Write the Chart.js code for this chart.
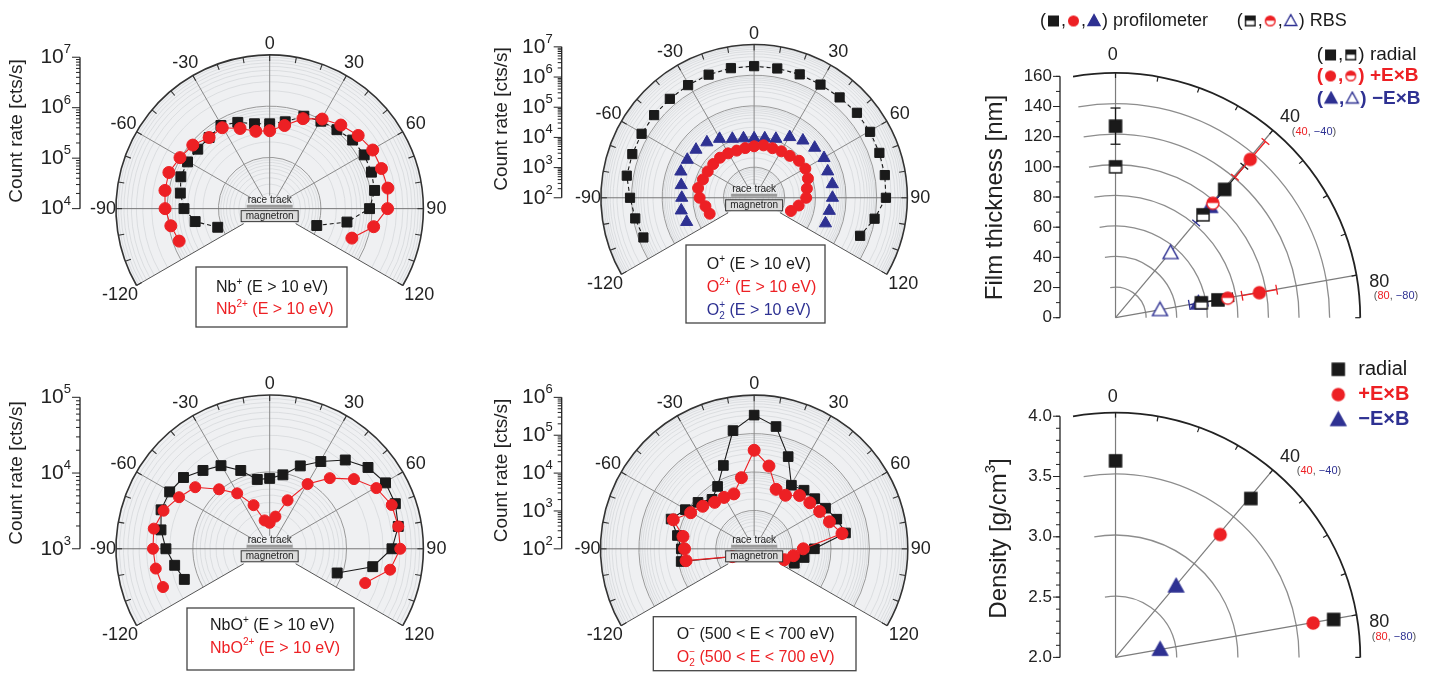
<!DOCTYPE html>
<html>
<head>
<meta charset="utf-8">
<title>Angular ion distributions and film properties</title>
<script src="https://cdn.jsdelivr.net/npm/chart.js@4.4.1/dist/chart.umd.min.js"></script>
<style>
  html, body { margin: 0; padding: 0; background: #fff; }
  #page { position: relative; width: 1432px; height: 673px; overflow: hidden; }
  #page canvas { position: absolute; }
</style>
</head>
<body>
<div id="page">
  <canvas id="nb"></canvas>
  <canvas id="ox"></canvas>
  <canvas id="nbo"></canvas>
  <canvas id="oneg"></canvas>
  <canvas id="thick"></canvas>
  <canvas id="dens"></canvas>
</div>
<script>
// angles (deg from target normal) and count rates (cts/s)
const ANGLES = [-110, -100, -90, -80, -70, -60, -50, -40, -30, -20, -10, 0, 10, 20, 30, 40, 50, 60, 70, 80, 90, 100, 110];
const ANGLE_TICKS = [-120, -90, -60, -30, 0, 30, 60, 90, 120];

const NB_PLUS = [1.2e5, 3.0e5, 4.7e5, 5.9e5, 7.0e5, 7.1e5, 6.8e5, 6.9e5, 8.0e5, 6.6e5, 5.1e5, 4.8e5, 5.6e5, 8.9e5, 1.0e6, 1.1e6, 1.3e6, 1.35e6, 1.3e6, 1.2e6, 8.9e5, 3.4e5, 9.5e4];
const NB_2PLUS = [7.6e5, 9.1e5, 1.1e6, 1.19e6, 1.24e6, 1.05e6, 9.1e5, 6.9e5, 7.1e5, 4.9e5, 3.6e5, 3.5e5, 4.7e5, 7.9e5, 1.12e6, 1.45e6, 1.8e6, 2.1e6, 2.1e6, 2.2e6, 2.0e6, 1.15e6, 5.1e5];
const NB_EXP = [4, 5, 6, 7];

const O_PLUS = [7.0e5, 8.7e5, 1.12e6, 1.66e6, 1.7e6, 1.74e6, 1.82e6, 1.9e6, 2.04e6, 2.19e6, 2.29e6, 2.29e6, 2.24e6, 2.24e6, 2.14e6, 2.19e6, 2.4e6, 2.34e6, 2.24e6, 2.14e6, 2.0e6, 9.8e5, 4.8e5];
const O_2PLUS = [3.5e3, 4.1e3, 6.0e3, 7.2e3, 6.0e3, 5.6e3, 5.5e3, 5.4e3, 5.0e3, 4.6e3, 4.7e3, 5.1e3, 5.8e3, 5.6e3, 6.0e3, 6.5e3, 8.1e3, 8.5e3, 7.4e3, 5.6e3, 5.0e3, 3.0e3, 1.9e3];
const O2_PLUS = [2.2e4, 2.6e4, 2.3e4, 2.6e4, 3.5e4, 3.3e4, 3.0e4, 2.5e4, 1.8e4, 1.2e4, 1.0e4, 9.3e3, 1.0e4, 1.2e4, 2.1e4, 3.0e4, 3.8e4, 4.3e4, 3.6e4, 3.9e4, 3.6e4, 3.1e4, 3.0e4];
const O_EXP = [2, 3, 4, 5, 6, 7];

const NBO_PLUS = [1.52e4, 1.8e4, 2.24e4, 2.73e4, 3.19e4, 3.18e4, 2.91e4, 2.24e4, 1.85e4, 1.26e4, 8.5e3, 8.5e3, 9.8e3, 1.46e4, 2.14e4, 3.39e4, 4.68e4, 5.5e4, 5.5e4, 5.0e4, 3.9e4, 2.3e4, 8.6e3];
const NBO_2PLUS = [3.0e4, 3.2e4, 3.3e4, 3.4e4, 2.95e4, 2.3e4, 1.84e4, 1.06e4, 7.0e3, 4.1e3, 2.4e3, 2.2e3, 2.7e3, 4.8e3, 9.7e3, 1.65e4, 2.7e4, 4.0e4, 4.9e4, 5.0e4, 5.0e4, 3.9e4, 2.1e4];
const NBO_EXP = [3, 4, 5];

const O_MINUS = [410, 8.5e3, 7.9e3, 1.07e4, 2.0e4, 1.17e4, 8.1e3, 5.1e3, 8.0e3, 2.2e4, 1.48e5, 3.4e5, 1.9e5, 3.9e4, 8.7e3, 1.05e4, 1.15e4, 1.4e4, 1.95e4, 2.6e4, 3.7e3, 2.1e3, 1.3e3];
const O2_MINUS = [400, 6.3e3, 6.5e3, 7.6e3, 1.74e4, 8.1e3, 5.6e3, 4.0e3, 3.7e3, 3.5e3, 8.1e3, 4.0e4, 1.66e4, 4.7e3, 4.3e3, 6.9e3, 7.8e3, 9.3e3, 1.22e4, 2.1e4, 1.9e3, 1.1e3, 690];
const ONEG_EXP = [2, 3, 4, 5, 6];

// film thickness (nm) and density (g/cm3)
const ANG_RADIAL = [0, 40, 80];
const ANG_EXB = [40, 80];
const THICK_RADIAL_PROF = [127, 111, 68];
const THICK_RADIAL_PROF_ERR = [12, 20, 10];
const THICK_PEXB_PROF = [137, 95.5];
const THICK_PEXB_PROF_ERR = [15.5, 11.5];
const THICK_MEXB_PROF = [96, 55];
const THICK_MEXB_PROF_ERR = [14, 6];
const THICK_RADIAL_RBS = [100, 89, 57];
const THICK_PEXB_RBS = [99, 74.5];
const THICK_MEXB_RBS = [56, 29.5];
const THICK_TICKS = [0, 20, 40, 60, 80, 100, 120, 140, 160];

const DENS_RADIAL = [3.63, 3.72, 3.81];
const DENS_PEXB = [3.33, 3.64];
const DENS_MEXB = [2.77, 2.37];
const DENS_TICKS = [2.0, 2.5, 3.0, 3.5, 4.0];

const D = Math.PI / 180;
const FONT = '"Liberation Sans", Arial, Helvetica, sans-serif';
const INK = '#1a1a1a', RED = '#ed2024', BLUE = '#2e3192';

function pt(chart, r, deg) {
  return {
    x: chart.scales.x.getPixelForValue(r * Math.sin(deg * D)),
    y: chart.scales.y.getPixelForValue(r * Math.cos(deg * D)),
  };
}
function rpx(chart, r) { return chart.scales.x.getPixelForValue(r) - chart.scales.x.getPixelForValue(0); }
function off(c, rp, deg) { return { x: c.x + rp * Math.sin(deg * D), y: c.y - rp * Math.cos(deg * D) }; }
function seg(ctx, a, b) { ctx.beginPath(); ctx.moveTo(a.x, a.y); ctx.lineTo(b.x, b.y); ctx.stroke(); }
function arcDeg(ctx, c, rp, a0, a1) { ctx.beginPath(); ctx.arc(c.x, c.y, rp, (a0 - 90) * D, (a1 - 90) * D); ctx.stroke(); }
function font(size, weight) { return (weight ? weight + ' ' : '') + size + 'px ' + FONT; }

function toLogPolar(angles, values, vmin) {
  return angles.map((a, i) => {
    const r = Math.log10(values[i] / vmin);
    return { x: r * Math.sin(a * D), y: r * Math.cos(a * D) };
  });
}
function toLinPolar(angles, values, v0) {
  return angles.map((a, i) => ({ x: (values[i] - v0) * Math.sin(a * D), y: (values[i] - v0) * Math.cos(a * D) }));
}

// text with ^{sup} and _{sub}
function parseRuns(s) {
  const out = [], re = /([\^_])\{([^}]*)\}|([^\^_]+)/g;
  let m;
  while ((m = re.exec(s))) out.push(m[3] !== undefined ? { t: m[3] } : { t: m[2], sup: m[1] === '^', sub: m[1] === '_' });
  return out;
}
function drawRuns(ctx, s, x, y, size, color, weight, measureOnly) {
  let cx = x, subStart = null, subEnd = 0;
  ctx.fillStyle = color; ctx.textAlign = 'left'; ctx.textBaseline = 'middle';
  for (const r of parseRuns(s)) {
    const small = r.sup || r.sub;
    ctx.font = font(small ? Math.round(size * 0.64) : size, weight);
    const w = ctx.measureText(r.t).width;
    const dx = r.sup && subStart !== null ? subStart : cx;
    const dy = r.sup ? -size * 0.36 : r.sub ? size * 0.3 : 0;
    if (!measureOnly) ctx.fillText(r.t, dx, y + dy);
    if (r.sub) { subStart = cx; subEnd = cx + w; cx += w; }
    else if (r.sup && subStart !== null) { cx = Math.max(subEnd, dx + w); subStart = null; }
    else { cx += w; subStart = null; }
  }
  return cx - x;
}

function marker(kind, s, color) {
  const n = Math.ceil(s) + 4, cv = document.createElement('canvas');
  cv.width = n; cv.height = n;
  const g = cv.getContext('2d'), m = n / 2, h = s / 2;
  g.lineWidth = 1.4; g.strokeStyle = color; g.fillStyle = color;
  g.beginPath();
  if (kind.startsWith('sq')) g.rect(m - h + 0.7, m - h + 0.7, s - 1.4, s - 1.4);
  else if (kind.startsWith('ci')) g.arc(m, m, h - 0.7, 0, 2 * Math.PI);
  else { g.moveTo(m, m - h * 1.05); g.lineTo(m + h, m + h * 0.75); g.lineTo(m - h, m + h * 0.75); g.closePath(); }
  if (kind.endsWith('Half') || kind.endsWith('Open')) {
    g.fillStyle = '#fff'; g.fill();
    if (kind.endsWith('Half')) { g.save(); g.clip(); g.fillStyle = color; g.fillRect(0, 0, n, m - 0.3); g.restore(); }
  } else g.fill();
  g.stroke();
  return cv;
}

function legendRow(ctx, x, y, items, size, color, weight) {
  ctx.textAlign = 'left'; ctx.textBaseline = 'middle';
  for (const it of items) {
    if (typeof it === 'string') {
      ctx.font = font(size, weight); ctx.fillStyle = color;
      ctx.fillText(it, x, y);
      x += ctx.measureText(it).width;
    } else {
      ctx.drawImage(it, x, y - it.height / 2);
      x += it.width;
    }
  }
}

function mountChart(cfg, datasets, plugin) {
  const cv = document.getElementById(cfg.id);
  cv.width = cfg.w; cv.height = cfg.h;
  cv.style.left = cfg.left + 'px'; cv.style.top = cfg.top + 'px';
  return new Chart(cv, {
    type: 'scatter',
    data: { datasets },
    options: {
      responsive: false, animation: false, devicePixelRatio: 1, events: [],
      layout: { padding: 0 },
      plugins: { legend: { display: false }, tooltip: { enabled: false } },
      scales: {
        x: { type: 'linear', display: false, min: -cfg.cx / cfg.k, max: (cfg.w - cfg.cx) / cfg.k },
        y: { type: 'linear', display: false, min: -(cfg.h - cfg.cy) / cfg.k, max: cfg.cy / cfg.k },
      },
    },
    plugins: [plugin],
  });
}

// ---------- log-radius half-disc panels ----------
function logPanelPlugin(cfg) {
  const decades = cfg.exps.length - 1;
  return {
    id: 'logPanel',
    beforeDatasetsDraw(chart) {
      const ctx = chart.ctx, c = pt(chart, 0, 0), R = rpx(chart, decades);
      ctx.save();
      ctx.fillStyle = '#eff0f2';
      ctx.beginPath(); ctx.moveTo(c.x, c.y); ctx.arc(c.x, c.y, R, -210 * D, 30 * D); ctx.closePath(); ctx.fill();
      ctx.lineWidth = 0.7; ctx.strokeStyle = '#d3d5d8';
      for (let d = 0; d < decades; d++)
        for (let m = 2; m < 10; m++) arcDeg(ctx, c, rpx(chart, d + Math.log10(m)), -120, 120);
      ctx.lineWidth = 1; ctx.strokeStyle = '#9a9a9a';
      for (let d = 1; d < decades; d++) arcDeg(ctx, c, rpx(chart, d), -120, 120);
      ctx.strokeStyle = '#8a8a8a';
      for (const a of [-60, -30, 0, 30, 60]) seg(ctx, off(c, 13, a), off(c, R, a));
      ctx.strokeStyle = '#777';
      seg(ctx, off(c, R, -90), off(c, R, 90));
      ctx.strokeStyle = '#555';
      for (const a of [-120, 120]) seg(ctx, off(c, 30, a), off(c, R, a));
      ctx.restore();
    },
    afterDatasetsDraw(chart) {
      const ctx = chart.ctx, c = pt(chart, 0, 0), R = rpx(chart, decades);
      ctx.save();
      // race track + magnetron
      ctx.textAlign = 'center'; ctx.textBaseline = 'middle';
      ctx.fillStyle = '#222'; ctx.font = font(10);
      ctx.fillText('race track', c.x, c.y - 8.5);
      ctx.strokeStyle = '#9a9a9a'; ctx.lineWidth = 3;
      seg(ctx, { x: c.x - 23, y: c.y - 2.5 }, { x: c.x + 23, y: c.y - 2.5 });
      ctx.fillStyle = '#dcdcdc'; ctx.fillRect(c.x - 28.5, c.y + 2, 57, 11);
      ctx.strokeStyle = '#333'; ctx.lineWidth = 1; ctx.strokeRect(c.x - 28.5, c.y + 2, 57, 11);
      ctx.fillStyle = '#222'; ctx.fillText('magnetron', c.x, c.y + 7.8);
      // outer arc and ticks
      ctx.strokeStyle = '#333'; ctx.lineWidth = 1.6;
      arcDeg(ctx, c, R, -120, 120);
      ctx.lineWidth = 1.1;
      for (let a = -120; a <= 120; a += 10) seg(ctx, off(c, R, a), off(c, R - 6, a));
      // angle labels
      const gap = { 0: 11, 30: 15, 60: 15, 90: 13, 120: 19 };
      ctx.font = font(18); ctx.fillStyle = '#222';
      for (const a of ANGLE_TICKS) {
        const p = off(c, R + gap[Math.abs(a)], a);
        ctx.fillText(String(a), p.x, p.y);
      }
      // radial axis on the left
      const ax = cfg.axisX, yTop = pt(chart, decades, 0).y;
      ctx.strokeStyle = '#222'; ctx.lineWidth = 1.3;
      seg(ctx, { x: ax, y: yTop }, { x: ax, y: c.y });
      ctx.lineWidth = 1;
      cfg.exps.forEach((e, d) => {
        const y = pt(chart, d, 0).y;
        seg(ctx, { x: ax - 8, y }, { x: ax, y });
        if (d < decades) for (let m = 2; m < 10; m++) {
          const ym = pt(chart, d + Math.log10(m), 0).y;
          seg(ctx, { x: ax - 4, y: ym }, { x: ax, y: ym });
        }
        const s = '10^{' + e + '}';
        const w = drawRuns(ctx, s, 0, 0, 21, '#222', '', true);
        drawRuns(ctx, s, ax - 9 - w, y, 21, '#222');
      });
      ctx.save();
      ctx.translate(cfg.titleX, cfg.titleY); ctx.rotate(-Math.PI / 2);
      ctx.textAlign = 'center'; ctx.textBaseline = 'middle'; ctx.font = font(19); ctx.fillStyle = '#222';
      ctx.fillText('Count rate [cts/s]', 0, 0);
      ctx.restore();
      // legend box
      const L = cfg.legend;
      ctx.fillStyle = '#fff'; ctx.fillRect(L.x, L.y, L.w, L.h);
      ctx.strokeStyle = '#444'; ctx.lineWidth = 1.3; ctx.strokeRect(L.x, L.y, L.w, L.h);
      for (const [s, col, y] of L.lines) drawRuns(ctx, s, L.tx, y, 16, col);
      ctx.restore();
    },
  };
}

function logSet(angles, values, vmin, o) {
  return {
    data: toLogPolar(angles, values, vmin),
    showLine: !!o.line,
    borderColor: o.color, borderWidth: 1.1, borderDash: o.dash || [],
    pointStyle: o.style, pointRadius: o.radius,
    pointBackgroundColor: o.color, pointBorderColor: o.color, pointBorderWidth: 1,
  };
}

const P_NB = { id: 'nb', left: 0, top: 0, w: 480, h: 335, cx: 270.7, cy: 210.7, k: 53, exps: NB_EXP,
  axisX: 80, titleX: 17, titleY: 131,
  legend: { x: 196, y: 267, w: 151, h: 60, tx: 216, lines: [['Nb^{+} (E > 10 eV)', INK, 288], ['Nb^{2+} (E > 10 eV)', RED, 310]] } };
const P_OX = { id: 'ox', left: 480, top: 0, w: 480, h: 335, cx: 275.3, cy: 199.3, k: 31.7, exps: O_EXP,
  axisX: 81.7, titleX: 21.7, titleY: 119,
  legend: { x: 206, y: 245, w: 139, h: 78, tx: 226.7, lines: [['O^{+} (E > 10 eV)', INK, 265], ['O^{2+} (E > 10 eV)', RED, 288], ['O_{2}^{+} (E > 10 eV)', BLUE, 311]] } };
const P_NBO = { id: 'nbo', left: 0, top: 335, w: 480, h: 338, cx: 270.7, cy: 216, k: 79.5, exps: NBO_EXP,
  axisX: 80, titleX: 17, titleY: 138,
  legend: { x: 187, y: 273, w: 167, h: 62, tx: 210, lines: [['NbO^{+} (E > 10 eV)', INK, 291], ['NbO^{2+} (E > 10 eV)', RED, 313.5]] } };
const P_ONEG = { id: 'oneg', left: 480, top: 335, w: 480, h: 338, cx: 275.3, cy: 216, k: 39.7, exps: ONEG_EXP,
  axisX: 81.7, titleX: 21.7, titleY: 135.5,
  legend: { x: 173.3, y: 281.7, w: 202.7, h: 54, tx: 196.7, lines: [['O^{−} (500 < E < 700 eV)', INK, 300], ['O_{2}^{−} (500 < E < 700 eV)', RED, 323]] } };

mountChart(P_NB, [
  logSet(ANGLES, NB_2PLUS, 1e4, { color: RED, style: 'circle', radius: 6, line: true }),
  logSet(ANGLES, NB_PLUS, 1e4, { color: INK, style: 'rect', radius: 7, line: true, dash: [4, 3] }),
], logPanelPlugin(P_NB));

mountChart(P_OX, [
  logSet(ANGLES, O_PLUS, 1e2, { color: INK, style: 'rect', radius: 6.5, line: true, dash: [4, 3] }),
  logSet(ANGLES, O_2PLUS, 1e2, { color: RED, style: 'circle', radius: 5.5 }),
  logSet(ANGLES, O2_PLUS, 1e2, { color: BLUE, style: 'triangle', radius: 7 }),
], logPanelPlugin(P_OX));

mountChart(P_NBO, [
  logSet(ANGLES, NBO_2PLUS, 1e3, { color: RED, style: 'circle', radius: 5.5, line: true }),
  logSet(ANGLES, NBO_PLUS, 1e3, { color: INK, style: 'rect', radius: 7, line: true }),
], logPanelPlugin(P_NBO));

mountChart(P_ONEG, [
  logSet(ANGLES, O2_MINUS, 1e2, { color: RED, style: 'circle', radius: 6, line: true }),
  logSet(ANGLES, O_MINUS, 1e2, { color: INK, style: 'rect', radius: 6.8, line: true }),
], logPanelPlugin(P_ONEG));

// ---------- linear quarter-disc panels ----------
const MK = {
  sq: marker('sq', 13.5, INK), sqHalf: marker('sqHalf', 13.5, INK),
  ci: marker('ci', 13.5, RED), ciHalf: marker('ciHalf', 13.5, RED),
  tri: marker('tri', 15, BLUE), triOpen: marker('triOpen', 15, BLUE),
};
const LG = {
  sq: marker('sq', 11, INK), sqHalf: marker('sqHalf', 11, INK),
  ci: marker('ci', 11, RED), ciHalf: marker('ciHalf', 11, RED),
  tri: marker('tri', 12, BLUE), triOpen: marker('triOpen', 12, BLUE),
};

function linPanelPlugin(cfg) {
  const span = cfg.vmax - cfg.v0;
  return {
    id: 'linPanel',
    beforeDatasetsDraw(chart) {
      const ctx = chart.ctx, c = pt(chart, 0, 0), R = rpx(chart, span);
      ctx.save();
      ctx.strokeStyle = '#8d8d8d'; ctx.lineWidth = 1.3;
      for (const v of cfg.ticks) if (v > cfg.v0 && v < cfg.vmax) arcDeg(ctx, c, rpx(chart, v - cfg.v0), -10, 90);
      ctx.strokeStyle = '#7c7c7c'; ctx.lineWidth = 1.2;
      for (const a of ANG_RADIAL) seg(ctx, c, off(c, R, a));
      for (const e of cfg.errors || []) {
        ctx.strokeStyle = e.color; ctx.lineWidth = 1.3;
        e.angles.forEach((a, i) => {
          const lo = pt(chart, e.values[i] - e.err[i] - cfg.v0, a);
          const hi = pt(chart, e.values[i] + e.err[i] - cfg.v0, a);
          seg(ctx, lo, hi);
          const px = Math.cos(a * D) * 5, py = Math.sin(a * D) * 5;
          for (const p of [lo, hi]) seg(ctx, { x: p.x - px, y: p.y - py }, { x: p.x + px, y: p.y + py });
        });
      }
      ctx.restore();
    },
    afterDatasetsDraw(chart) {
      const ctx = chart.ctx, c = pt(chart, 0, 0), R = rpx(chart, span);
      ctx.save();
      ctx.strokeStyle = '#222'; ctx.lineWidth = 1.8;
      arcDeg(ctx, c, R, -10, 90);
      ctx.lineWidth = 1.2;
      for (let a = 0; a <= 90; a += 10) seg(ctx, off(c, R, a), off(c, R - 5, a));
      // value axis
      const ax = cfg.axisX, yTop = pt(chart, span, 0).y;
      ctx.lineWidth = 1.3;
      seg(ctx, { x: ax, y: yTop }, { x: ax, y: c.y });
      ctx.lineWidth = 1;
      const nMinor = Math.round(span / cfg.minor);
      for (let n = 0; n <= nMinor; n++) {
        const y = pt(chart, n * cfg.minor, 0).y;
        seg(ctx, { x: ax - 4, y }, { x: ax, y });
      }
      ctx.font = font(17); ctx.fillStyle = '#222'; ctx.textAlign = 'right'; ctx.textBaseline = 'middle';
      for (const v of cfg.ticks) {
        const y = pt(chart, v - cfg.v0, 0).y;
        seg(ctx, { x: ax - 7, y }, { x: ax, y });
        ctx.fillText(cfg.fmt(v), ax - 8, y);
      }
      ctx.save();
      ctx.translate(cfg.titleX, cfg.titleY); ctx.rotate(-Math.PI / 2);
      const tw = drawRuns(ctx, cfg.title, 0, 0, 24, '#222', '', true);
      drawRuns(ctx, cfg.title, -tw / 2, 0, 24, '#222');
      ctx.restore();
      // angle labels
      ctx.textAlign = 'center'; ctx.font = font(18); ctx.fillStyle = '#222';
      for (const L of cfg.angleLabels) ctx.fillText(L.t, L.x, L.y);
      for (const L of cfg.pairLabels) {
        ctx.font = font(11); ctx.textAlign = 'left';
        const parts = [['(', '#555'], [L.p, RED], [', ', '#555'], [L.m, BLUE], [')', '#555']];
        let w = 0; for (const [t] of parts) w += ctx.measureText(t).width;
        let x = L.x - w / 2;
        for (const [t, col] of parts) { ctx.fillStyle = col; ctx.fillText(t, x, L.y); x += ctx.measureText(t).width; }
      }
      cfg.legend(ctx);
      ctx.restore();
    },
  };
}

function linSet(angles, values, v0, style) {
  return { data: toLinPolar(angles, values, v0), pointStyle: style, pointRadius: 7, showLine: false };
}

const P_THICK = { id: 'thick', left: 960, top: 0, w: 472, h: 340, cx: 152.7, cy: 325, k: 1.583,
  v0: 0, vmax: 160, ticks: THICK_TICKS, minor: 10, fmt: v => String(v), axisX: 100,
  title: 'Film thickness [nm]', titleX: 35, titleY: 197.5,
  angleLabels: [{ t: '0', x: 152.7, y: 55 }, { t: '40', x: 330, y: 116.7 }, { t: '80', x: 419.3, y: 281.7 }],
  pairLabels: [{ p: '40', m: '−40', x: 354, y: 131.7 }, { p: '80', m: '−80', x: 436, y: 296 }],
  errors: [
    { angles: ANG_RADIAL, values: THICK_RADIAL_PROF, err: THICK_RADIAL_PROF_ERR, color: INK },
    { angles: ANG_EXB, values: THICK_PEXB_PROF, err: THICK_PEXB_PROF_ERR, color: RED },
    { angles: ANG_EXB, values: THICK_MEXB_PROF, err: THICK_MEXB_PROF_ERR, color: BLUE },
  ],
  legend(ctx) {
    legendRow(ctx, 80, 21, ['(', LG.sq, ',', LG.ci, ',', LG.tri, ') profilometer'], 18, INK);
    legendRow(ctx, 276.7, 21, ['(', LG.sqHalf, ',', LG.ciHalf, ',', LG.triOpen, ') RBS'], 18, INK);
    legendRow(ctx, 356.7, 55, ['(', LG.sq, ',', LG.sqHalf, ') radial'], 19, INK);
    legendRow(ctx, 356.7, 76, ['(', LG.ci, ',', LG.ciHalf, ') +E×B'], 19, RED, 'bold');
    legendRow(ctx, 356.7, 98.5, ['(', LG.tri, ',', LG.triOpen, ') −E×B'], 19, BLUE, 'bold');
  },
};

const P_DENS = { id: 'dens', left: 960, top: 340, w: 472, h: 333, cx: 152.7, cy: 325, k: 126.67,
  v0: 2, vmax: 4, ticks: DENS_TICKS, minor: 0.1, fmt: v => v.toFixed(1), axisX: 100,
  title: 'Density [g/cm^{3}]', titleX: 39, titleY: 198.5,
  angleLabels: [{ t: '0', x: 152.7, y: 56.7 }, { t: '40', x: 330, y: 117.3 }, { t: '80', x: 419.3, y: 281.7 }],
  pairLabels: [{ p: '40', m: '−40', x: 359, y: 130.7 }, { p: '80', m: '−80', x: 434, y: 296.7 }],
  errors: [],
  legend(ctx) {
    const rows = [[MK.sq, 'radial', INK, ''], [MK.ci, '+E×B', RED, 'bold'], [MK.tri, '−E×B', BLUE, 'bold']];
    rows.forEach(([m, t, col, wt], i) => {
      const y = 29.3 + i * 25.3;
      ctx.drawImage(m, 378.3 - m.width / 2, y - m.height / 2);
      ctx.font = font(20, wt); ctx.fillStyle = col; ctx.textAlign = 'left'; ctx.textBaseline = 'middle';
      ctx.fillText(t, 398.3, y);
    });
  },
};

mountChart(P_THICK, [
  linSet(ANG_EXB, THICK_PEXB_RBS, 0, MK.ciHalf),
  linSet(ANG_RADIAL, THICK_RADIAL_RBS, 0, MK.sqHalf),
  linSet(ANG_RADIAL, THICK_RADIAL_PROF, 0, MK.sq),
  linSet(ANG_EXB, THICK_PEXB_PROF, 0, MK.ci),
  linSet(ANG_EXB, THICK_MEXB_PROF, 0, MK.tri),
  linSet(ANG_EXB, THICK_MEXB_RBS, 0, MK.triOpen),
], linPanelPlugin(P_THICK));

mountChart(P_DENS, [
  linSet(ANG_RADIAL, DENS_RADIAL, 2, MK.sq),
  linSet(ANG_EXB, DENS_PEXB, 2, MK.ci),
  linSet(ANG_EXB, DENS_MEXB, 2, MK.tri),
], linPanelPlugin(P_DENS));
</script>
</body>
</html>
